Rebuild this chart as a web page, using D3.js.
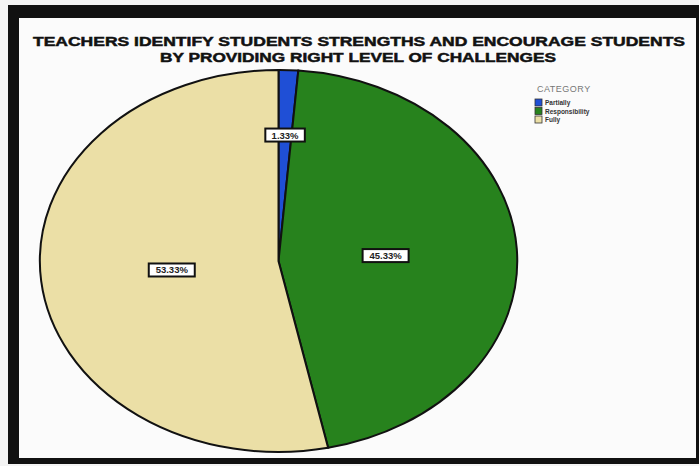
<!DOCTYPE html>
<html><head><meta charset="utf-8">
<script src="https://cdn.jsdelivr.net/npm/d3@7"></script>
<style>body{margin:0;background:#fff}svg{display:block}</style>
</head><body>
<svg id="chart" width="699" height="466"></svg>
<script>
const titleLines = ["TEACHERS IDENTIFY STUDENTS STRENGTHS AND ENCOURAGE STUDENTS", "BY PROVIDING RIGHT LEVEL OF CHALLENGES"];
const categories = ["Partially", "Responsibility", "Fully"];
const values = [1.33, 45.33, 53.33];
const colors = ["#1f4fd6", "#27821d", "#ebdfa6"];
const legendTitle = "CATEGORY";

const svg = d3.select("#chart");
// photographed-screen frame
svg.append("rect").attr("x",0).attr("y",0).attr("width",699).attr("height",466).attr("fill","#f4f4f4");
svg.append("rect").attr("x",8).attr("y",5).attr("width",691).attr("height",459).attr("fill","#111");
svg.append("rect").attr("x",19).attr("y",18).attr("width",677).attr("height",440).attr("fill","#fbfbfb");

// title
const tw = [652, 396], tx = [359, 358], ty = [46, 62];
titleLines.forEach((t,i)=>{
  svg.append("text").attr("x",tx[i]).attr("y",ty[i]).attr("text-anchor","middle")
    .attr("font-family","Liberation Sans, Arial, sans-serif").attr("font-weight","bold")
    .attr("font-size",13.5).attr("fill","#111").attr("stroke","#111").attr("stroke-width",0.5)
    .attr("textLength",tw[i]).attr("lengthAdjust","spacingAndGlyphs").text(t);
});

// pie (elliptical)
const cx = 278.5, cy = 261, rx = 238.5, ry = 191;
const pie = d3.pie().sort(null).value(d=>d);
const arcs = pie(values);
const arc = d3.arc().innerRadius(0).outerRadius(1);
const g = svg.append("g").attr("transform",`translate(${cx},${cy})`);
const gs = g.append("g").attr("transform",`scale(${rx},${ry})`);
gs.selectAll("path").data(arcs).join("path")
  .attr("d",arc).attr("fill",(d,i)=>colors[i])
  .attr("stroke","#111").attr("stroke-width",2).attr("vector-effect","non-scaling-stroke");

// labels
arcs.forEach((d,i)=>{
  const mid = (d.startAngle+d.endAngle)/2;
  const f = (d.endAngle-d.startAngle) < 0.3 ? 0.66 : 0.45;
  const x = rx*f*Math.sin(mid), y = -ry*f*Math.cos(mid);
  const label = d3.format(".2f")(values[i]) + "%";
  const w = label.length*6.5+7, h = 13;
  const lg = g.append("g").attr("transform",`translate(${x},${y})`);
  lg.append("rect").attr("x",-w/2).attr("y",-h/2).attr("width",w).attr("height",h)
    .attr("fill","#fff").attr("stroke","#111").attr("stroke-width",2);
  lg.append("text").attr("y",3.5).attr("text-anchor","middle")
    .attr("font-family","Liberation Sans, Arial, sans-serif").attr("font-size",9.5).attr("font-weight","bold")
    .attr("fill","#222").text(label);
});

// legend
const lgd = svg.append("g");
lgd.append("text").attr("x",537).attr("y",92).attr("font-family","Liberation Sans, Arial, sans-serif")
  .attr("font-size",9).attr("fill","#777").attr("letter-spacing",0.5).text(legendTitle);
categories.forEach((c,i)=>{
  const y = 99 + i*8.5;
  lgd.append("rect").attr("x",535).attr("y",y).attr("width",7).attr("height",7)
    .attr("fill",colors[i]).attr("stroke","#333").attr("stroke-width",0.8);
  lgd.append("text").attr("x",545).attr("y",y+6).attr("font-family","Liberation Sans, Arial, sans-serif")
    .attr("font-size",6.5).attr("font-weight","bold").attr("fill","#333").text(c);
});
</script>
</body></html>
